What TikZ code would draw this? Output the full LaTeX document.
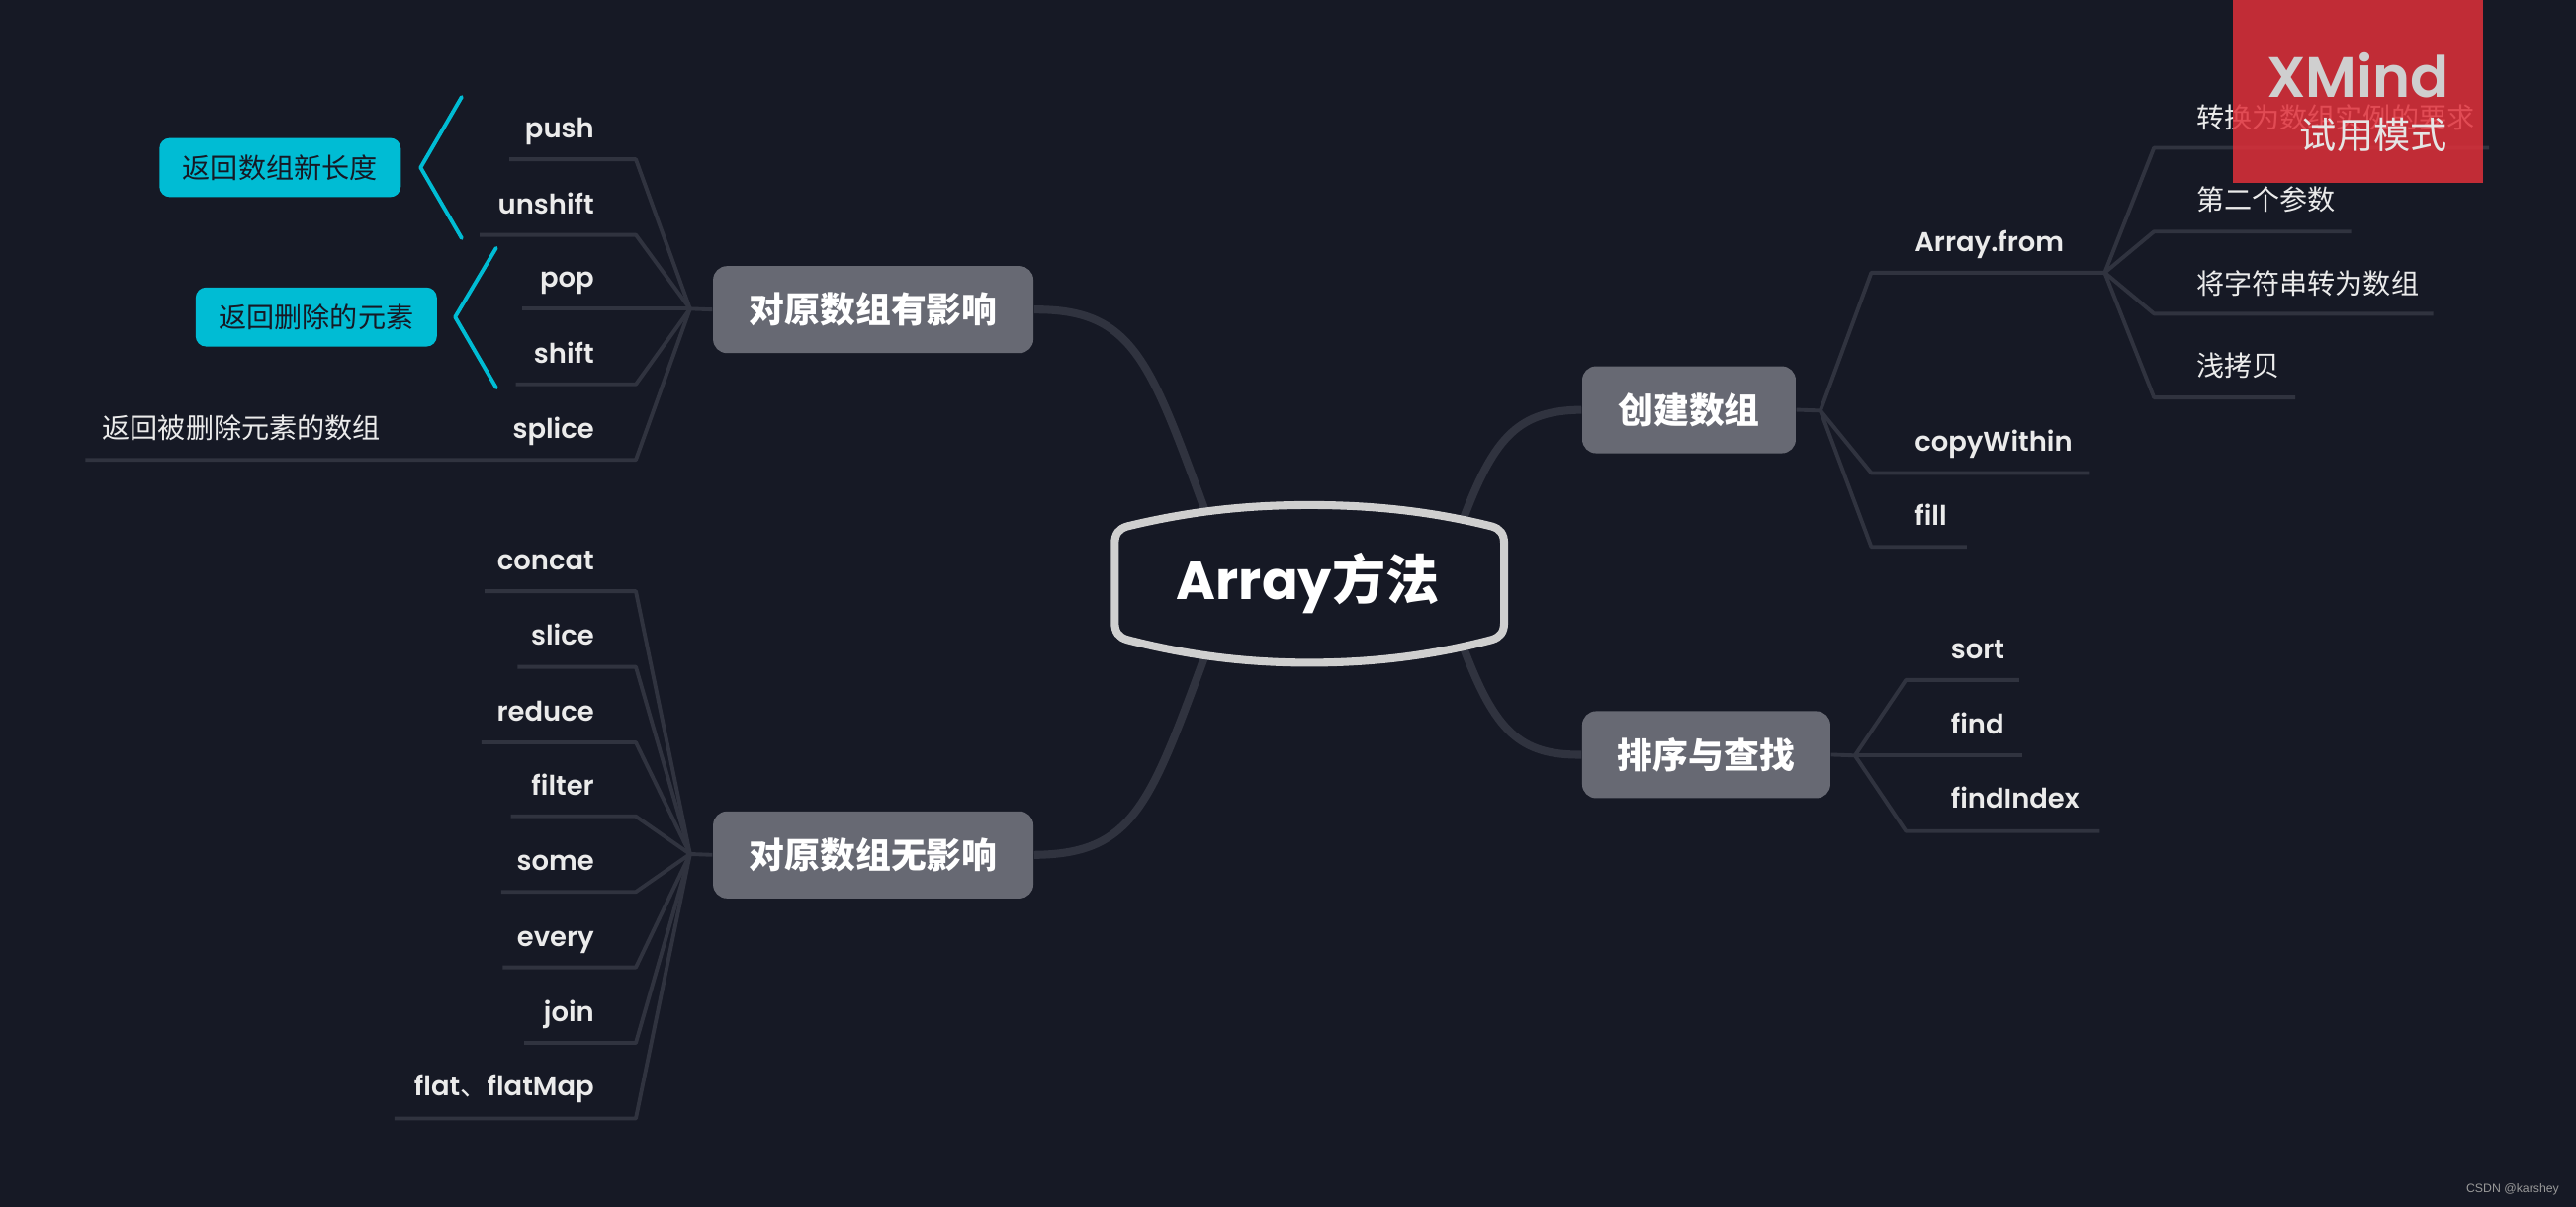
\documentclass[tikz,border=0pt]{standalone}
\usepackage{fontspec}
\setmainfont{Poppins}
\newfontfamily\leaffont{Poppins SemiBold}
\newfontfamily\cjk{Noto Sans CJK SC}
\newfontfamily\markfont{Liberation Sans}

\definecolor{bgdark}{HTML}{161925}
\definecolor{linegrey}{HTML}{30333F}
\definecolor{topicgrey}{HTML}{676973}
\definecolor{notecyan}{HTML}{00BCD4}
\definecolor{rootgrey}{HTML}{CFCFCF}
\definecolor{badgered}{HTML}{E0303A}

\tikzset{
    branch/.style={draw=linegrey, line width=1.1pt, line join=round},
    mainbranch/.style={draw=linegrey, line width=2.3pt},
    leaf/.style={text=white!92!black, inner sep=0pt, font=\leaffont\fontsize{7.8}{10}\selectfont},
    cjkleaf/.style={leaf, font=\cjk\fontsize{8}{10}\selectfont},
    topic/.style={fill=topicgrey, rounded corners=4pt, text=white, minimum height=0.88cm, inner sep=0pt, font=\cjk\fontsize{10.2}{12}\selectfont\bfseries},
    note/.style={fill=notecyan, rounded corners=3pt, text=bgdark, minimum height=0.598cm, inner sep=0pt, font=\cjk\fontsize{8}{10}\selectfont},
    bracket/.style={draw=notecyan, line width=1.1pt, line cap=round, line join=round},
}

\begin{document}
\begin{tikzpicture}[x=0.016614cm, y=-0.016614cm]
    \useasboundingbox[fill=bgdark] (0,0) rectangle (1567.9,734.6);

    % topics
    \node[topic, minimum width=3.24cm] (changing) at (531.5,188.5) {对原数组有影响};
    \node[topic, minimum width=3.24cm] (keeping) at (531.5,520.5) {对原数组无影响};
    \node[topic, minimum width=2.16cm] (create) at (1028,249.5) {创建数组};
    \node[topic, minimum width=2.51cm] (sorting) at (1038.5,459.5) {排序与查找};

    \coordinate (rootUL) at (735,315);
    \coordinate (rootUR) at (891,315);
    \coordinate (rootDL) at (735,395);
    \coordinate (rootDR) at (891,395);

    \draw[mainbranch] (changing.east) .. controls (690,188) and (700,220) .. (rootUL);
    \draw[mainbranch] (keeping.east) .. controls (690,520) and (700,490) .. (rootDL);
    \draw[mainbranch] (create.west) .. controls (925,250) and (910,265) .. (rootUR);
    \draw[mainbranch] (sorting.west) .. controls (925,460) and (910,445) .. (rootDR);

    % root
    \draw[draw=rootgrey, fill=bgdark, line width=2.3pt]
        (678.5,331) .. controls (678.5,325) and (681,322) .. (686,320.5)
        .. controls (725,311) and (760,307.5) .. (797,307.5)
        .. controls (834,307.5) and (870,311) .. (908,320.5)
        .. controls (913,322) and (915.5,325) .. (915.5,331)
        -- (915.5,379)
        .. controls (915.5,385) and (913,388) .. (908,389.5)
        .. controls (870,399.5) and (834,403.5) .. (797,403.5)
        .. controls (760,403.5) and (725,399.5) .. (686,389.5)
        .. controls (681,388) and (678.5,385) .. (678.5,379) -- cycle;
    \node[inner sep=0pt, text=white, font=\fontsize{15.4}{18}\selectfont\bfseries] (root) at (796,355) {Array{\cjk 方法}};

    % left, upper group
    \coordinate (upjoin) at (420,188);
    \coordinate (upelbow) at (387,188);
    \draw[branch] (changing.west) -- (upjoin);

    \node[leaf, anchor=base east] (push) at (362,84) {push};
    \node[leaf, anchor=base east] (unshift) at (362,130) {unshift};
    \node[leaf, anchor=base east] (pop) at (362,175) {pop};
    \node[leaf, anchor=base east] (shift) at (362,221) {shift};
    \node[leaf, anchor=base east] (splice) at (362,267) {splice};
    \node[cjkleaf, anchor=base west] (removed) at (62,267) {返回被删除元素的数组};

    \coordinate (pushend) at (310,97);
    \coordinate (unshiftend) at (292,143);
    \coordinate (popend) at (318,188);
    \coordinate (shiftend) at (314,234);
    \coordinate (spliceend) at (52,280);

    \draw[branch] (pushend) -- (pushend -| upelbow) -- (upjoin);
    \draw[branch] (unshiftend) -- (unshiftend -| upelbow) -- (upjoin);
    \draw[branch] (popend) -- (upjoin);
    \draw[branch] (shiftend) -- (shiftend -| upelbow) -- (upjoin);
    \draw[branch] (spliceend) -- (spliceend -| upelbow) -- (upjoin);

    % notes
    \node[note, minimum width=2.44cm] (lengthnote) at (170.5,102) {返回数组新长度};
    \node[note, minimum width=2.44cm] (elementnote) at (192.5,193) {返回删除的元素};
    \coordinate (lengthtip) at (256,102);
    \coordinate (elementtip) at (277,193);
    \coordinate (lengthtop) at (281,59);
    \coordinate (lengthbottom) at (281,145);
    \coordinate (elementtop) at (302,151);
    \coordinate (elementbottom) at (302,236);
    \draw[bracket] (lengthtop) -- (lengthtip) -- (lengthbottom);
    \draw[bracket] (elementtop) -- (elementtip) -- (elementbottom);

    % left, lower group
    \coordinate (lowjoin) at (420,520);
    \coordinate (lowelbow) at (387,520);
    \draw[branch] (keeping.west) -- (lowjoin);

    \node[leaf, anchor=base east] (concat) at (362,347) {concat};
    \node[leaf, anchor=base east] (slice) at (362,393) {slice};
    \node[leaf, anchor=base east] (reduce) at (362,439) {reduce};
    \node[leaf, anchor=base east] (filter) at (362,484) {filter};
    \node[leaf, anchor=base east] (some) at (362,530) {some};
    \node[leaf, anchor=base east] (every) at (362,576) {every};
    \node[leaf, anchor=base east] (join) at (362,622) {join};
    \node[leaf, anchor=base east] (flat) at (362,667) {flat{\cjk 、}flatMap};

    \coordinate (concatend) at (295,360);
    \coordinate (sliceend) at (315,406);
    \coordinate (reduceend) at (293,452);
    \coordinate (filterend) at (311,497);
    \coordinate (someend) at (305,543);
    \coordinate (everyend) at (306,589);
    \coordinate (joinend) at (319,635);
    \coordinate (flatend) at (240,681);

    \draw[branch] (concatend) -- (concatend -| lowelbow) -- (lowjoin);
    \draw[branch] (sliceend) -- (sliceend -| lowelbow) -- (lowjoin);
    \draw[branch] (reduceend) -- (reduceend -| lowelbow) -- (lowjoin);
    \draw[branch] (filterend) -- (filterend -| lowelbow) -- (lowjoin);
    \draw[branch] (someend) -- (someend -| lowelbow) -- (lowjoin);
    \draw[branch] (everyend) -- (everyend -| lowelbow) -- (lowjoin);
    \draw[branch] (joinend) -- (joinend -| lowelbow) -- (lowjoin);
    \draw[branch] (flatend) -- (flatend -| lowelbow) -- (lowjoin);

    % right, create
    \coordinate (createjoin) at (1108,250);
    \coordinate (createelbow) at (1139,250);
    \draw[branch] (create.east) -- (createjoin);

    \node[leaf, anchor=base west] (from) at (1165,153) {Array.from};
    \node[leaf, anchor=base west] (within) at (1165,275) {copyWithin};
    \node[leaf, anchor=base west] (fill) at (1165,320) {fill};

    \coordinate (fromjoin) at (1281,166);
    \coordinate (withinend) at (1272,288);
    \coordinate (fillend) at (1197,333);

    \draw[branch] (createjoin) -- (createelbow |- fromjoin) -- (fromjoin);
    \draw[branch] (createjoin) -- (createelbow |- withinend) -- (withinend);
    \draw[branch] (createjoin) -- (createelbow |- fillend) -- (fillend);

    \coordinate (fromelbow) at (1311,166);
    \coordinate (ruleend) at (1515,90);
    \coordinate (secondend) at (1431,141);
    \coordinate (stringend) at (1481,191);
    \coordinate (copyend) at (1397,242);

    \draw[branch] (fromjoin) -- (fromelbow |- ruleend) -- (ruleend);
    \draw[branch] (fromjoin) -- (fromelbow |- secondend) -- (secondend);
    \draw[branch] (fromjoin) -- (fromelbow |- stringend) -- (stringend);
    \draw[branch] (fromjoin) -- (fromelbow |- copyend) -- (copyend);

    \node[cjkleaf, anchor=base west] (rule) at (1336.5,78) {转换为数组实例的要求};
    \node[cjkleaf, anchor=base west] (second) at (1336.5,128) {第二个参数};
    \node[cjkleaf, anchor=base west] (string) at (1336.5,179) {将字符串转为数组};
    \node[cjkleaf, anchor=base west] (copy) at (1336.5,229) {浅拷贝};

    % right, sorting
    \coordinate (sortjoin) at (1129,460);
    \coordinate (sortelbow) at (1160,460);
    \draw[branch] (sorting.east) -- (sortjoin);

    \node[leaf, anchor=base west] (sort) at (1187,401) {sort};
    \node[leaf, anchor=base west] (find) at (1187,447) {find};
    \node[leaf, anchor=base west] (findindex) at (1187,492) {findIndex};

    \coordinate (sortend) at (1229,414);
    \coordinate (findend) at (1231,460);
    \coordinate (indexend) at (1278,506);

    \draw[branch] (sortjoin) -- (sortelbow |- sortend) -- (sortend);
    \draw[branch] (sortjoin) -- (findend);
    \draw[branch] (sortjoin) -- (sortelbow |- indexend) -- (indexend);

    % badge
    \fill[badgered, opacity=0.85] (1359,-3) rectangle (1511,111.5);
    \node[inner sep=0pt, anchor=base east, text=rootgrey, font=\leaffont\fontsize{16.4}{18}\selectfont] (xmind) at (1491,59) {XMind};
    \node[inner sep=0pt, anchor=east, text=white!90!black, font=\cjk\fontsize{10.6}{12}\selectfont] (trial) at (1490,82) {试用模式};

    \node[inner sep=0pt, anchor=east, text=white!60!black, font=\markfont\fontsize{3.5}{5}\selectfont] (mark) at (1558,724.5) {CSDN @karshey};
\end{tikzpicture}
\end{document}
